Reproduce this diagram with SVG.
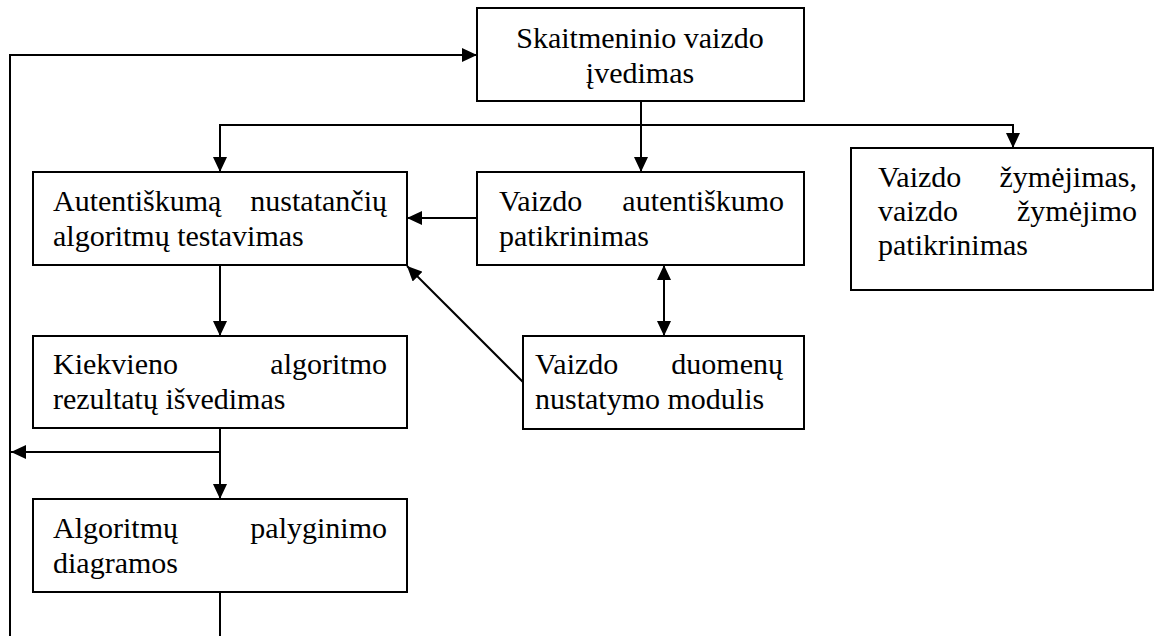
<svg xmlns="http://www.w3.org/2000/svg" width="1155" height="636" viewBox="0 0 1155 636">
<style>
.box{fill:#fff;stroke:#000;stroke-width:2}
.t{font-family:"Liberation Serif","Times New Roman",serif;font-size:30px;fill:#000}
.e{text-anchor:end}
.m{text-anchor:middle}
.c{fill:none;stroke:#000;stroke-width:2}
</style>
<defs>
<marker id="ah" markerUnits="userSpaceOnUse" markerWidth="15" markerHeight="14" refX="15" refY="7" orient="auto-start-reverse" viewBox="0 0 15 14">
<path d="M0,0 L15,7 L0,14 z" fill="#000"/>
</marker>
</defs>
<rect width="1155" height="636" fill="#fff"/>
<g id="connectors">
<path class="c" d="M10,636 L10,55 L477,55" marker-end="url(#ah)"/>
<path class="c" d="M641,101 L641,172" marker-end="url(#ah)"/>
<path class="c" d="M220,172 L220,125 L1013,125 L1013,148" marker-end="url(#ah)"/>
<path class="c" d="M220,125 L220,172" marker-end="url(#ah)"/>
<path class="c" d="M477,218 L407,218" marker-end="url(#ah)"/>
<path class="c" d="M664,265 L664,336" marker-start="url(#ah)" marker-end="url(#ah)"/>
<path class="c" d="M523,382 L407,266" marker-end="url(#ah)"/>
<path class="c" d="M220,265 L220,336" marker-end="url(#ah)"/>
<path class="c" d="M220,428 L220,499" marker-end="url(#ah)"/>
<path class="c" d="M220,452 L11,452" marker-end="url(#ah)"/>
<path class="c" d="M220,592 L220,636"/>
</g>
<g id="n_input">
<rect class="box" x="477" y="8" width="327" height="93"/>
<text class="t m" x="640" y="48">Skaitmeninio vaizdo</text>
<text class="t m" x="640" y="83">įvedimas</text>
</g>
<g id="n_testing">
<rect class="box" x="33" y="172" width="374" height="93"/>
<text class="t" x="53" y="211">Autentiškumą</text>
<text class="t e" x="387" y="211">nustatančių</text>
<text class="t" x="53" y="246">algoritmų testavimas</text>
</g>
<g id="n_check">
<rect class="box" x="477" y="172" width="327" height="93"/>
<text class="t" x="499" y="211">Vaizdo</text>
<text class="t e" x="784" y="211">autentiškumo</text>
<text class="t" x="499" y="246">patikrinimas</text>
</g>
<g id="n_mark">
<rect class="box" x="851" y="148" width="302" height="142"/>
<text class="t" x="878" y="187">Vaizdo</text>
<text class="t e" x="1137" y="187">žymėjimas,</text>
<text class="t" x="878" y="221">vaizdo</text>
<text class="t e" x="1137" y="221">žymėjimo</text>
<text class="t" x="878" y="255">patikrinimas</text>
</g>
<g id="n_results">
<rect class="box" x="33" y="336" width="374" height="92"/>
<text class="t" x="53" y="374">Kiekvieno</text>
<text class="t e" x="387" y="374">algoritmo</text>
<text class="t" x="53" y="409">rezultatų išvedimas</text>
</g>
<g id="n_data">
<rect class="box" x="523" y="336" width="281" height="93"/>
<text class="t" x="535" y="374">Vaizdo</text>
<text class="t e" x="783" y="374">duomenų</text>
<text class="t" x="535" y="409">nustatymo modulis</text>
</g>
<g id="n_compare">
<rect class="box" x="33" y="499" width="374" height="93"/>
<text class="t" x="53" y="538">Algoritmų</text>
<text class="t e" x="387" y="538">palyginimo</text>
<text class="t" x="53" y="573">diagramos</text>
</g>
</svg>
